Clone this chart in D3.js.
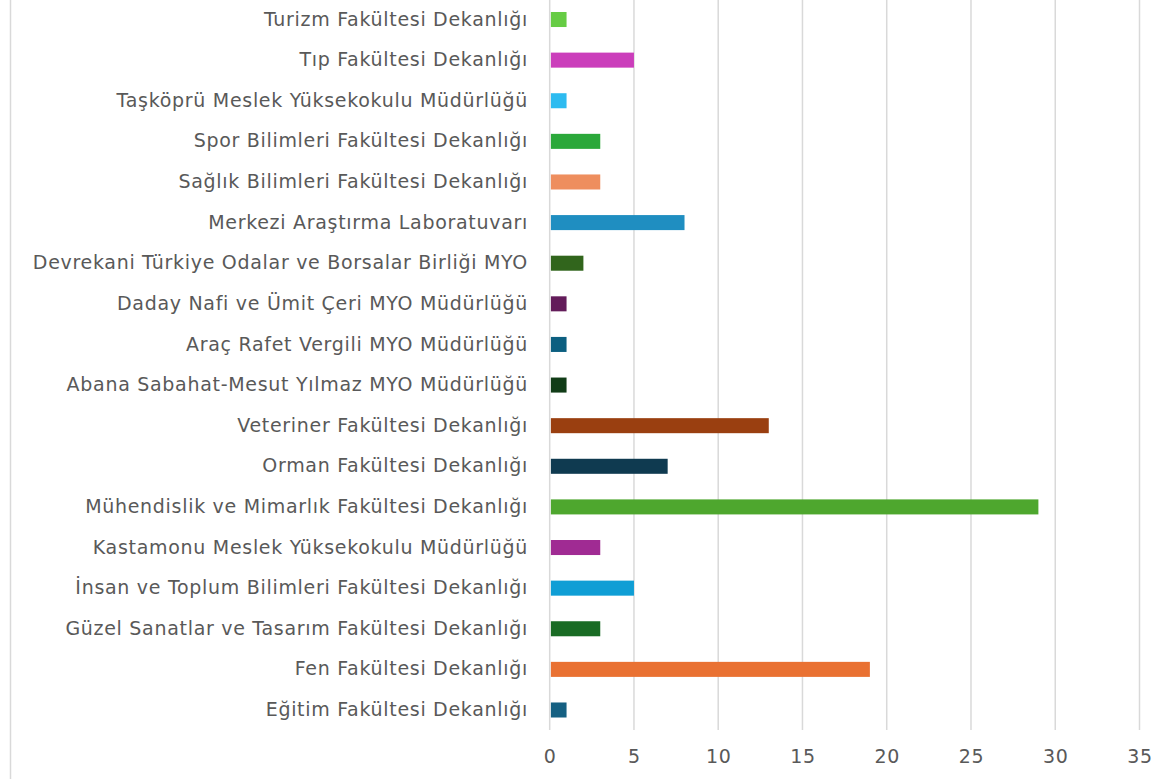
<!DOCTYPE html>
<html lang="tr">
<head>
    <meta charset="UTF-8">
    <style>
        body {margin: 0; background: #ffffff;}
        .axis text {font-family: "DejaVu Sans"; font-size: 19px; letter-spacing: 0.7px; fill: #595959;}
    </style>
</head>
<body>
<div id="chart"></div>

<script src="https://d3js.org/d3.v7.min.js"></script>
<script>

// categories, top to bottom as they appear
var units = [
    "Turizm Fakültesi Dekanlığı",
    "Tıp Fakültesi Dekanlığı",
    "Taşköprü Meslek Yüksekokulu Müdürlüğü",
    "Spor Bilimleri Fakültesi Dekanlığı",
    "Sağlık Bilimleri Fakültesi Dekanlığı",
    "Merkezi Araştırma Laboratuvarı",
    "Devrekani Türkiye Odalar ve Borsalar Birliği MYO",
    "Daday Nafi ve Ümit Çeri MYO Müdürlüğü",
    "Araç Rafet Vergili MYO Müdürlüğü",
    "Abana Sabahat-Mesut Yılmaz MYO Müdürlüğü",
    "Veteriner Fakültesi Dekanlığı",
    "Orman Fakültesi Dekanlığı",
    "Mühendislik ve Mimarlık Fakültesi Dekanlığı",
    "Kastamonu Meslek Yüksekokulu Müdürlüğü",
    "İnsan ve Toplum Bilimleri Fakültesi Dekanlığı",
    "Güzel Sanatlar ve Tasarım Fakültesi Dekanlığı",
    "Fen Fakültesi Dekanlığı",
    "Eğitim Fakültesi Dekanlığı"
];

var counts = [1, 5, 1, 3, 3, 8, 2, 1, 1, 1, 13, 7, 29, 3, 5, 3, 19, 1];

var barColors = [
    "#66cc44", "#cb3ebb", "#2dbbf0", "#2ba83a", "#ee8e5e", "#1f8ec1",
    "#31651c", "#631c5a", "#0c5f80", "#113c17", "#9a3f10", "#0f3a50",
    "#4ea72e", "#a02b93", "#0f9ed5", "#196b24", "#e97132", "#156082"
];

var xTicks = [0, 5, 10, 15, 20, 25, 30, 35];

var data = units.map(function (u, i) {
    return {unit: u, count: counts[i], color: barColors[i]};
});

var width = 1158, height = 779;

var svg = d3.select("#chart")
    .append("svg")
    .attr("width", width)
    .attr("height", height);

// x scale: 0 at the first gridline, 35 at the last one
var x = d3.scaleLinear().domain([0, 35]).range([549.7, 1139.5]);

// one band per unit
var y = d3.scaleBand()
    .domain(units)
    .range([-0.8, 730.3])
    .paddingInner(0.63)
    .paddingOuter(0.315);

// left border of the chart area
svg.append("line")
    .attr("x1", 10.5).attr("x2", 10.5)
    .attr("y1", 0).attr("y2", height)
    .attr("stroke", "#d9d9d9")
    .attr("stroke-width", 1.5);

// vertical gridlines
svg.selectAll(".grid")
    .data(xTicks)
    .enter().append("line")
    .attr("class", "grid")
    .attr("x1", function (d) { return x(d); })
    .attr("x2", function (d) { return x(d); })
    .attr("y1", 0)
    .attr("y2", 730)
    .attr("stroke", "#d9d9d9")
    .attr("stroke-width", 1.5);

// bars
svg.selectAll(".bar")
    .data(data)
    .enter().append("rect")
    .attr("class", "bar")
    .attr("x", x(0) + 1.2)
    .attr("y", function (d) { return y(d.unit); })
    .attr("width", function (d) { return x(d.count) - x(0) - 1.2; })
    .attr("height", y.bandwidth())
    .attr("fill", function (d) { return d.color; });

// x axis labels
var xAxis = svg.append("g")
    .attr("class", "axis x")
    .attr("transform", "translate(0,730)")
    .call(d3.axisBottom(x).tickValues(xTicks).tickSize(0).tickPadding(20));
xAxis.select(".domain").remove();

// category labels
var yAxis = svg.append("g")
    .attr("class", "axis y")
    .attr("transform", "translate(528,0)")
    .call(d3.axisLeft(y).tickSize(0).tickPadding(0));
yAxis.select(".domain").remove();

</script>
</body>
</html>
